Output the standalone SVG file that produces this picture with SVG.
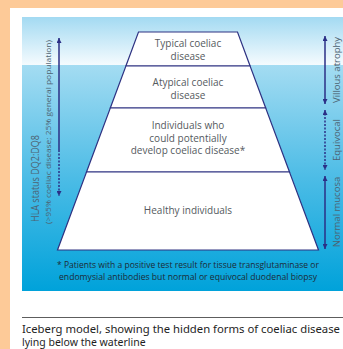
<svg xmlns="http://www.w3.org/2000/svg" width="343" height="349" viewBox="0 0 343 349">
  <defs>
    <linearGradient id="sky" x1="0" y1="0" x2="0" y2="1">
      <stop offset="0" stop-color="#a3daf2"/>
      <stop offset="1" stop-color="#f5fbfe"/>
    </linearGradient>
    <linearGradient id="sea" x1="0" y1="0" x2="0" y2="1">
      <stop offset="0" stop-color="#a4dcf2"/>
      <stop offset="0.5" stop-color="#4cbce6"/>
      <stop offset="1" stop-color="#00a2da"/>
    </linearGradient>
    <marker id="head" viewBox="0 0 10 10" refX="10" refY="5" markerWidth="5" markerHeight="5" orient="auto-start-reverse" markerUnits="userSpaceOnUse">
      <path d="M0,0 L10,5 L0,10 z" fill="#2b2f86"/>
    </marker>
  </defs>
  <style>
    .layer { fill: #ffffff; stroke: #2e3282; stroke-width: 1.2; stroke-linejoin: miter; }
    .lbl { font-family: "Open Sans", "Noto Sans", "Liberation Sans", sans-serif; font-size: 10px; fill: #555a60; text-anchor: middle; }
    .side { font-family: "Open Sans", "Noto Sans", "Liberation Sans", sans-serif; fill: #4d6372; }
    .note { font-family: "Open Sans", "Noto Sans", "Liberation Sans", sans-serif; font-size: 8.3px; fill: #1d2a36; text-anchor: middle; }
    .cap { font-family: "Noto Sans", "Open Sans", "Liberation Sans", sans-serif; font-size: 10.5px; fill: #1e1e1e; }
    .arrow { stroke: #2b2f86; stroke-width: 1.5; fill: none; marker-start: url(#head); marker-end: url(#head); }
    .solid { stroke: #2b2f86; stroke-width: 1.5; fill: none; }
    .dotted { stroke-dasharray: 2 1.5; }
  </style>

  <!-- page frame -->
  <rect x="0" y="0" width="343" height="349" fill="#fdca98"/>
  <rect x="10" y="8" width="333" height="341" fill="#ffffff"/>

  <!-- sky and sea -->
  <rect x="22" y="17" width="321" height="48" fill="url(#sky)"/>
  <rect x="22" y="65" width="321" height="226" fill="url(#sea)"/>

  <!-- iceberg layers -->
  <g id="typical">
    <polygon class="layer" points="138.5,32 237.5,32 250.1,66 125.9,66"/>
    <text class="lbl" x="188" y="47">Typical coeliac</text>
    <text class="lbl" x="188" y="59.5">disease</text>
  </g>
  <g id="atypical">
    <polygon class="layer" points="125.9,66 250.1,66 265.7,108 110.3,108"/>
    <text class="lbl" x="188" y="86">Atypical coeliac</text>
    <text class="lbl" x="188" y="98.5">disease</text>
  </g>
  <g id="potential">
    <polygon class="layer" points="110.3,108 265.7,108 289.5,172 86.5,172"/>
    <text class="lbl" x="188" y="129">Individuals who</text>
    <text class="lbl" x="188" y="141.5">could potentially</text>
    <text class="lbl" x="188" y="154">develop coeliac disease*</text>
  </g>
  <g id="healthy">
    <polygon class="layer" points="86.5,172 289.5,172 318.5,250 57.5,250"/>
    <text class="lbl" x="188" y="214">Healthy individuals</text>
  </g>

  <!-- side labels -->
  <g id="hla-label">
    <text class="side" font-size="11" transform="translate(39,222) rotate(-90)" textLength="87" lengthAdjust="spacingAndGlyphs">HLA status DQ2:DQ8</text>
    <text class="side" font-size="8" transform="translate(51,224) rotate(-90)" textLength="184" lengthAdjust="spacingAndGlyphs">(&gt;95% coeliac disease; 25% general population)</text>
  </g>
  <g id="villous-label">
    <text class="side" font-size="9.5" text-anchor="middle" transform="translate(339.5,70) rotate(-90)">Villous atrophy</text>
  </g>
  <g id="equivocal-label">
    <text class="side" font-size="9.5" text-anchor="middle" transform="translate(339.5,140) rotate(-90)">Equivocal</text>
  </g>
  <g id="normal-label">
    <text class="side" font-size="9.5" text-anchor="middle" transform="translate(339.5,212) rotate(-90)">Normal mucosa</text>
  </g>

  <!-- range arrows -->
  <g id="connectors">
    <line class="solid" x1="59" y1="150" x2="59" y2="38" marker-end="url(#head)"/>
    <line class="solid dotted" x1="59" y1="150" x2="59" y2="196" marker-end="url(#head)"/>
    <line class="arrow" x1="325" y1="36" x2="325" y2="104"/>
    <line class="arrow dotted" x1="325" y1="110" x2="325" y2="170"/>
    <line class="arrow" x1="325" y1="176" x2="325" y2="249"/>
  </g>

  <!-- footnote -->
  <g id="footnote">
    <text class="note" x="188" y="268" textLength="262" lengthAdjust="spacingAndGlyphs">* Patients with a positive test result for tissue transglutaminase or</text>
    <text class="note" x="188" y="279.5" textLength="258" lengthAdjust="spacingAndGlyphs">endomysial antibodies but normal or equivocal duodenal biopsy</text>
  </g>

  <!-- caption -->
  <g id="caption">
    <line x1="22" y1="317.5" x2="343" y2="317.5" stroke="#333333" stroke-width="0.8"/>
    <text class="cap" x="22" y="333" textLength="318" lengthAdjust="spacingAndGlyphs">Iceberg model, showing the hidden forms of coeliac disease</text>
    <text class="cap" x="22" y="346">lying below the waterline</text>
  </g>
</svg>
